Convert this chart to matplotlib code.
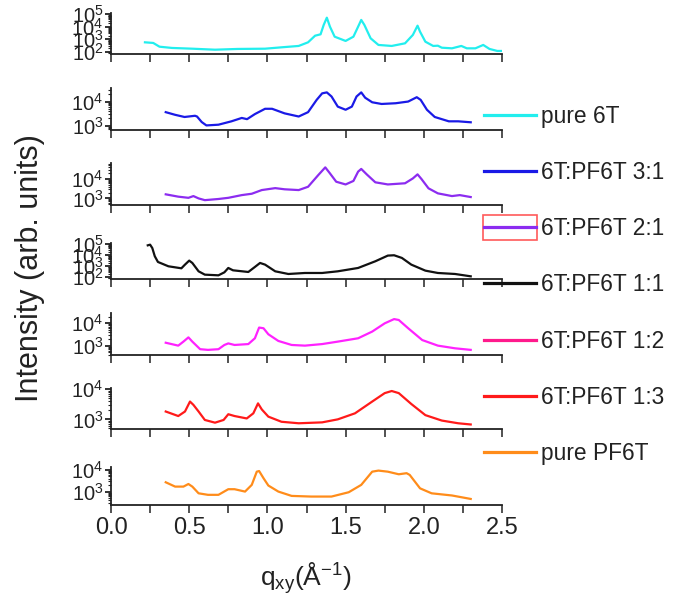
import matplotlib
matplotlib.use('Agg')
import matplotlib.pyplot as plt
from matplotlib.lines import Line2D
from matplotlib.patches import Rectangle
from matplotlib.ticker import LogLocator, MultipleLocator, FuncFormatter, NullFormatter
import numpy as np

plt.rcParams['font.family'] = ['Liberation Sans', 'DejaVu Sans']
plt.rcParams['mathtext.default'] = 'regular'

# Samples, top to bottom
labels = ['pure 6T', '6T:PF6T 3:1', '6T:PF6T 2:1', '6T:PF6T 1:1',
          '6T:PF6T 1:2', '6T:PF6T 1:3', 'pure PF6T']
colors = ['#22eeee', '#1a1ae6', '#8c2cf0', '#111111', '#ff22ff', '#ff1a1a', '#ff8c1a']
legend_colors = ['#22eeee', '#1a1ae6', '#8c2cf0', '#111111', '#ff1a8c', '#ff1a1a', '#ff8c1a']

# Read-off curves: q (1/A) and log10 intensity
q_6t = [0.217, 0.27, 0.31, 0.39, 0.52, 0.665, 0.81, 0.985, 1.09, 1.2, 1.26, 1.305, 1.34,
        1.36, 1.38, 1.40, 1.43, 1.50, 1.55, 1.58, 1.60, 1.62, 1.66, 1.71, 1.795, 1.88,
        1.93, 1.96, 1.976, 2.01, 2.06, 2.09, 2.115, 2.18, 2.24, 2.275, 2.33, 2.38, 2.42,
        2.47, 2.5]
logi_6t = [2.76, 2.71, 2.41, 2.31, 2.25, 2.17, 2.23, 2.25, 2.36, 2.47, 2.76, 3.29, 3.40,
           4.15, 4.73, 4.01, 3.21, 2.87, 3.21, 4.01, 4.55, 4.15, 3.08, 2.55, 2.47, 2.68,
           3.35, 4.09, 3.61, 2.81, 2.47, 2.49, 2.33, 2.28, 2.47, 2.28, 2.28, 2.55, 2.23,
           2.07, 2.07]

q_31 = [0.35, 0.41, 0.47, 0.537, 0.55, 0.58, 0.61, 0.687, 0.77, 0.836, 0.87, 0.92, 0.985,
        1.03, 1.11, 1.2, 1.26, 1.315, 1.35, 1.38, 1.41, 1.45, 1.50, 1.54, 1.57, 1.60,
        1.625, 1.67, 1.73, 1.82, 1.90, 1.955, 1.98, 2.02, 2.07, 2.16, 2.22, 2.30]
logi_31 = [3.56, 3.45, 3.36, 3.41, 3.38, 3.15, 3.01, 3.04, 3.18, 3.32, 3.27, 3.48, 3.70,
           3.70, 3.51, 3.38, 3.56, 4.07, 4.34, 4.38, 4.21, 3.79, 3.66, 3.79, 4.21, 4.38,
           4.16, 3.97, 3.90, 3.93, 4.00, 4.18, 4.07, 3.66, 3.36, 3.18, 3.18, 3.14]

q_21 = [0.35, 0.43, 0.495, 0.527, 0.56, 0.60, 0.687, 0.75, 0.836, 0.90, 0.964, 1.05, 1.11,
        1.2, 1.26, 1.326, 1.37, 1.40, 1.44, 1.50, 1.55, 1.58, 1.60, 1.635, 1.69, 1.77,
        1.88, 1.93, 1.96, 1.985, 2.03, 2.09, 2.18, 2.23, 2.30]
logi_21 = [3.21, 3.09, 3.03, 3.12, 3.00, 2.91, 2.97, 3.03, 3.17, 3.24, 3.43, 3.53, 3.47,
           3.43, 3.60, 4.21, 4.60, 4.29, 3.86, 3.72, 3.90, 4.38, 4.52, 4.24, 3.83, 3.72,
           3.78, 4.03, 4.24, 4.00, 3.52, 3.26, 3.12, 3.17, 3.07]

q_11 = [0.235, 0.25, 0.264, 0.28, 0.30, 0.367, 0.45, 0.473, 0.50, 0.52, 0.56, 0.60, 0.687,
        0.725, 0.75, 0.78, 0.878, 0.92, 0.953, 0.985, 1.05, 1.134, 1.24, 1.35, 1.45, 1.58,
        1.69, 1.77, 1.81, 1.86, 1.92, 2.01, 2.09, 2.2, 2.30]
logi_11 = [4.87, 4.93, 4.63, 3.89, 3.38, 2.99, 2.81, 3.14, 3.50, 3.29, 2.54, 2.24, 2.18,
           2.45, 2.84, 2.63, 2.48, 2.93, 3.29, 3.14, 2.54, 2.30, 2.39, 2.39, 2.54, 2.84,
           3.44, 3.95, 3.98, 3.74, 3.14, 2.60, 2.39, 2.30, 2.09]

q_12 = [0.35, 0.43, 0.463, 0.495, 0.52, 0.57, 0.62, 0.687, 0.725, 0.75, 0.79, 0.878, 0.92,
        0.947, 0.975, 1.006, 1.07, 1.155, 1.24, 1.35, 1.45, 1.58, 1.67, 1.75, 1.81, 1.84,
        1.90, 1.99, 2.09, 2.2, 2.30]
logi_12 = [3.13, 3.00, 3.18, 3.37, 3.18, 2.84, 2.81, 2.84, 3.03, 3.10, 3.03, 3.07, 3.33,
           3.81, 3.78, 3.51, 3.21, 3.03, 3.00, 3.07, 3.18, 3.33, 3.63, 4.00, 4.19, 4.15,
           3.78, 3.25, 3.00, 2.88, 2.81]

q_13 = [0.35, 0.43, 0.473, 0.505, 0.527, 0.56, 0.60, 0.665, 0.72, 0.75, 0.79, 0.868, 0.91,
        0.94, 0.964, 1.006, 1.09, 1.2, 1.35, 1.45, 1.56, 1.67, 1.75, 1.795, 1.84, 1.92,
        2.01, 2.115, 2.22, 2.30]
logi_13 = [3.26, 3.11, 3.26, 3.59, 3.48, 3.26, 2.98, 2.89, 2.98, 3.17, 3.11, 3.03, 3.20,
           3.53, 3.33, 3.09, 2.92, 2.87, 2.90, 3.00, 3.20, 3.59, 3.87, 3.94, 3.87, 3.51,
           3.14, 2.96, 2.87, 2.83]

q_pf = [0.35, 0.41, 0.463, 0.495, 0.52, 0.56, 0.62, 0.687, 0.75, 0.79, 0.857, 0.90, 0.932,
        0.947, 0.975, 1.006, 1.07, 1.155, 1.28, 1.41, 1.52, 1.60, 1.67, 1.71, 1.77, 1.84,
        1.89, 1.91, 1.976, 2.05, 2.18, 2.30]
logi_pf = [3.43, 3.23, 3.23, 3.35, 3.23, 2.92, 2.85, 2.85, 3.11, 3.11, 3.00, 3.31, 3.92,
           3.95, 3.62, 3.28, 3.00, 2.80, 2.77, 2.77, 2.97, 3.31, 3.92, 3.97, 3.92, 3.80,
           3.85, 3.77, 3.15, 2.92, 2.82, 2.66]

q_all = [q_6t, q_31, q_21, q_11, q_12, q_13, q_pf]
logi_all = [logi_6t, logi_31, logi_21, logi_11, logi_12, logi_13, logi_pf]

# y range of each panel (log10)
ylims = [(1.85, 5.08), (2.82, 4.55), (2.66, 4.81), (1.85, 5.08),
         (2.58, 4.45), (2.68, 4.03), (2.38, 4.15)]

W, H = 679, 596
fig = plt.figure(figsize=(W / 100, H / 100), dpi=100)

# panel frames in pixels: (bottom, top)
frames = [(53.7, 13.3), (130, 88.3), (205, 163.3), (279, 243),
          (355, 313.3), (429, 388.3), (505, 466.7)]
x_left, x_right = 111, 502

log_fmt = FuncFormatter(lambda v, p: r'$10^{%d}$' % round(np.log10(v)))

axes = []
for i in range(7):
    bot, top = frames[i]
    ax = fig.add_axes([x_left / W, 1 - bot / H, (x_right - x_left) / W, (bot - top) / H])
    ax.plot(q_all[i], 10 ** np.array(logi_all[i]), color=colors[i], lw=1.6)
    ax.set_yscale('log')
    ax.set_ylim(10 ** ylims[i][0], 10 ** ylims[i][1])
    ax.set_xlim(0, 2.5)

    ax.spines['top'].set_visible(False)
    ax.spines['right'].set_visible(False)
    for s in ('left', 'bottom'):
        ax.spines[s].set_linewidth(1.3)
        ax.spines[s].set_color('#222222')

    ax.xaxis.set_major_locator(MultipleLocator(0.5))
    ax.xaxis.set_minor_locator(MultipleLocator(0.25))
    ax.yaxis.set_major_locator(LogLocator(base=10, numticks=10))
    ax.yaxis.set_minor_locator(LogLocator(base=10, subs=np.arange(2, 10), numticks=10))
    ax.yaxis.set_major_formatter(log_fmt)
    ax.yaxis.set_minor_formatter(NullFormatter())

    ax.tick_params(axis='x', which='both', direction='out', length=6, width=1.1,
                   colors='#222222', labelsize=17, pad=3)
    ax.tick_params(axis='y', which='major', direction='out', length=4, width=1.3,
                   colors='#222222', labelsize=14.5, pad=1.5)
    ax.tick_params(axis='y', which='minor', direction='out', length=2, width=0.8,
                   colors='#222222')
    if i < 6:
        ax.tick_params(axis='x', labelbottom=False)
    axes.append(ax)

fig.text(30 / W, 1 - 268 / H, 'Intensity (arb. units)', rotation=90,
         ha='center', va='center', fontsize=22, color='#222222')
fig.text(306 / W, 1 - 578 / H, r'q$_{xy}$(Å$^{-1}$)', ha='center', va='center',
         fontsize=19, color='#222222')

handles = [Line2D([], [], color=c, lw=2.3) for c in legend_colors]
leg = fig.legend(handles, labels, loc='upper left', bbox_to_anchor=(484 / W, 1 - 105 / H),
                 frameon=False, fontsize=16.4, handlelength=2.28, handletextpad=0.22,
                 labelspacing=1.455, borderpad=0, borderaxespad=0)
for t in leg.get_texts():
    t.set_color('#222222')

# selection box round the 2:1 legend key
fig.canvas.draw()
bb = leg.legend_handles[2].get_window_extent(fig.canvas.get_renderer())
cy = (bb.y0 + bb.y1) / 2
x0, y0 = fig.transFigure.inverted().transform((bb.x0 - 1, cy - 12.5))
x1, y1 = fig.transFigure.inverted().transform((bb.x1 + 1, cy + 12.5))
fig.add_artist(Rectangle((x0, y0), x1 - x0, y1 - y0, transform=fig.transFigure,
                         fill=False, edgecolor='#ff5a5a', lw=1.2))

fig.savefig('out.png', dpi=100)
